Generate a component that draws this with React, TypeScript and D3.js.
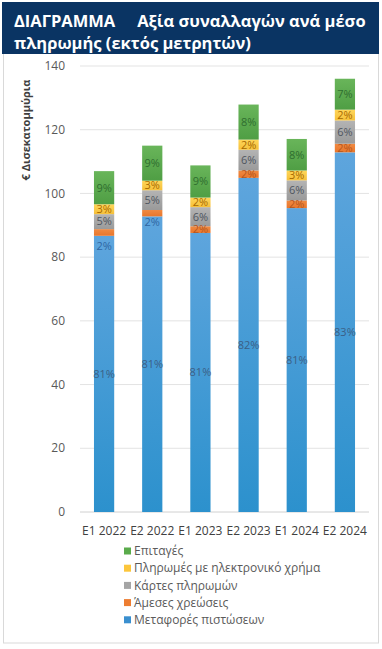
import React from "react";
import * as d3 from "d3";

const periods = ["E1 2022", "E2 2022", "E1 2023", "E2 2023", "E1 2024", "E2 2024"];
const creditTransfers = [86.7, 92.8, 87.6, 104.9, 95.4, 112.9];
const directDebits = [2.1, 2.0, 2.1, 2.3, 2.4, 2.7];
const paymentCards = [4.7, 6.2, 6.0, 6.5, 6.3, 7.3];
const eMoney = [3.1, 3.0, 3.0, 3.2, 3.1, 3.4];
const cheques = [10.4, 11.0, 10.1, 11.0, 9.9, 9.7];

const creditPct = ["81%", "81%", "81%", "82%", "81%", "83%"];
const debitPct = ["2%", "2%", "2%", "2%", "2%", "2%"];
const cardPct = ["5%", "5%", "6%", "6%", "6%", "6%"];
const eMoneyPct = ["3%", "3%", "2%", "2%", "3%", "2%"];
const chequePct = ["9%", "9%", "9%", "8%", "8%", "7%"];

const yTicks = [0, 20, 40, 60, 80, 100, 120, 140];

const seriesNames = [
  "Μεταφορές πιστώσεων",
  " Άμεσες χρεώσεις",
  "Κάρτες πληρωμών",
  "Πληρωμές με ηλεκτρονικό χρήμα",
  "Επιταγές",
];

const seriesStyle = [
  { top: "#5ea5dd", bottom: "#2c91cd", label: "#3b5f86", legend: "#3a8fcf" },
  { top: "#f08a42", bottom: "#e8762c", label: "#b5561c", legend: "#ed7d31" },
  { top: "#b4b4b4", bottom: "#9a9a9a", label: "#4f5660", legend: "#a5a5a5" },
  { top: "#ffd65a", bottom: "#f5c03a", label: "#a86a00", legend: "#fcc63c" },
  { top: "#69b55a", bottom: "#4f9e44", label: "#2f6e2f", legend: "#5aab4b" },
];

const FONT = "'Open Sans', 'Noto Sans', sans-serif";

export default function App() {
  const W = 382;
  const H = 649;
  const x = d3.scaleBand<string>().domain(periods).range([80, 369]).paddingInner(0.58).paddingOuter(0.29);
  const y = d3.scaleLinear().domain([0, 140]).range([512, 66]);

  const rows = periods.map((p, i) => ({
    period: p,
    s0: creditTransfers[i],
    s1: directDebits[i],
    s2: paymentCards[i],
    s3: eMoney[i],
    s4: cheques[i],
  }));
  const keys = ["s0", "s1", "s2", "s3", "s4"];
  const stacked = d3.stack<any>().keys(keys)(rows);
  const labels = [creditPct, debitPct, cardPct, eMoneyPct, chequePct];
  const debitLabelShift = [14, 9, 0, 0, 0, 0];

  const legendOrder = [4, 3, 2, 1, 0];

  return (
    <div style={{ position: "absolute", left: 0, top: 0 }}>
      <svg width={W} height={H} style={{ display: "block" }}>
        <defs>
          {seriesStyle.map((s, i) => (
            <linearGradient key={i} id={`g${i}`} x1="0" y1="0" x2="0" y2="1">
              <stop offset="0%" stopColor={s.top} />
              <stop offset="100%" stopColor={s.bottom} />
            </linearGradient>
          ))}
        </defs>
        <rect x={0} y={0} width={W} height={H} fill="#ffffff" />
        {/* frame */}
        <rect x={3.5} y={50} width={375} height={593} fill="none" stroke="#d9d9d9" strokeWidth={1} />
        {/* header */}
        <rect x={2} y={2} width={377} height={52} fill="#0a3463" />
        <text x={14} y={27} fill="#ffffff" fontFamily={FONT} fontWeight={700} fontSize={16.5}>
          ΔΙΑΓΡΑΜΜΑ<tspan dx={22}>Αξία συναλλαγών ανά μέσο</tspan>
        </text>
        <text x={14} y={49} fill="#ffffff" fontFamily={FONT} fontWeight={700} fontSize={16.5}>
          πληρωμής (εκτός μετρητών)
        </text>

        {/* gridlines & y ticks */}
        {yTicks.map((t) => (
          <g key={t}>
            <line x1={80} x2={369} y1={y(t)} y2={y(t)} stroke={t === 0 ? "#d0d0d0" : "#e3e3e3"} strokeWidth={1} />
            <text x={65} y={y(t)} dy="0.35em" textAnchor="end" fontFamily={FONT} fontSize={12} fill="#595959">
              {t}
            </text>
          </g>
        ))}

        {/* y axis title */}
        <text
          transform={`translate(26,130) rotate(-90)`}
          textAnchor="middle"
          dy="0.35em"
          fontFamily={FONT}
          fontWeight={700}
          fontSize={11}
          fill="#404040"
        >
          € Δισεκατομμύρια
        </text>

        {/* bars */}
        {stacked.map((layer, si) => (
          <g key={si}>
            {layer.map((d, i) => (
              <rect
                key={i}
                x={x(periods[i])}
                width={x.bandwidth()}
                y={y(d[1])}
                height={y(d[0]) - y(d[1])}
                fill={`url(#g${si})`}
              />
            ))}
          </g>
        ))}

        {/* labels */}
        {stacked.map((layer, si) => (
          <g key={"l" + si}>
            {layer.map((d, i) => {
              const shift = si === 1 ? debitLabelShift[i] : 0;
              const cy = (y(d[0]) + y(d[1])) / 2 + shift;
              return (
                <text
                  key={i}
                  x={(x(periods[i]) as number) + x.bandwidth() / 2}
                  y={cy}
                  dy="0.35em"
                  textAnchor="middle"
                  fontFamily={FONT}
                  fontSize={11}
                  fill={shift > 0 ? "#2f66a3" : seriesStyle[si].label}
                >
                  {labels[si][i]}
                </text>
              );
            })}
          </g>
        ))}

        {/* x labels */}
        {periods.map((p) => (
          <text
            key={p}
            x={(x(p) as number) + x.bandwidth() / 2}
            y={531}
            dy="0.35em"
            textAnchor="middle"
            fontFamily={FONT}
            fontSize={12}
            fill="#404040"
          >
            {p}
          </text>
        ))}

        {/* legend */}
        {legendOrder.map((si, k) => (
          <g key={si} transform={`translate(124,${551 + k * 17.2})`}>
            <rect x={0} y={-3.5} width={7} height={7} fill={seriesStyle[si].legend} />
            <text x={10} y={0} dy="0.35em" fontFamily={FONT} fontSize={12} fill="#595959">
              {seriesNames[si]}
            </text>
          </g>
        ))}
      </svg>
    </div>
  );
}
